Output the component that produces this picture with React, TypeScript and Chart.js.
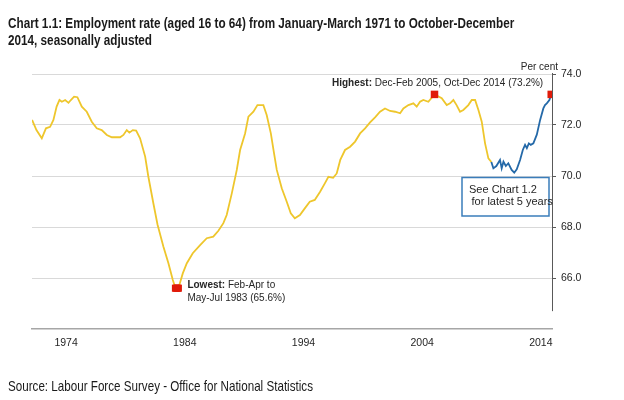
import React, { useEffect, useRef } from 'react';
import { Chart, registerables } from 'chart.js';

Chart.register(...registerables);

// Employment rate (%); x = decimal year (centre of the 3-month period)
const trendYears = [
  1971.13, 1971.5, 1971.95, 1972.3, 1972.65, 1972.93, 1973.2, 1973.44, 1973.64, 1973.92,
  1974.2, 1974.4, 1974.67, 1974.95, 1975.32, 1975.74, 1976.16, 1976.58, 1977.0, 1977.43,
  1977.85, 1978.55, 1978.83, 1979.11, 1979.33, 1979.62, 1979.9, 1980.23, 1980.66, 1980.93,
  1981.35, 1981.7, 1982.2, 1982.62, 1982.99, 1983.21, 1983.46, 1983.83, 1984.17, 1984.67,
  1985.29, 1985.85, 1986.4, 1986.83, 1987.25, 1987.53, 1987.96, 1988.38, 1988.66, 1989.08,
  1989.36, 1989.78, 1990.12, 1990.62, 1990.9, 1991.25, 1991.52, 1991.75, 1992.17, 1992.59,
  1992.93, 1993.27, 1993.7, 1994.11, 1994.53, 1994.95, 1995.4, 1995.8, 1996.1, 1996.5,
  1996.8, 1997.1, 1997.5, 1997.93, 1998.35, 1998.77, 1999.19, 1999.61, 2000.03, 2000.45,
  2000.87, 2001.3, 2001.72, 2002.14, 2002.42, 2002.84, 2003.26, 2003.54, 2003.82, 2004.1,
  2004.52, 2005.04, 2005.65, 2006.07, 2006.35, 2006.63, 2006.9, 2007.19, 2007.47, 2007.89,
  2008.18, 2008.46, 2008.74, 2009.02, 2009.3, 2009.58, 2009.83,
];
const trendValues = [
  72.2, 71.8, 71.48, 71.87, 71.93, 72.2, 72.72, 72.98, 72.91, 72.98,
  72.87, 72.98, 73.11, 73.09, 72.72, 72.52, 72.13, 71.87, 71.8, 71.61,
  71.52, 71.52, 71.61, 71.8, 71.7, 71.8, 71.78, 71.48, 70.76, 69.97,
  68.93, 68.1, 67.23, 66.58, 65.92, 65.6, 65.6, 66.18, 66.58, 66.97,
  67.29, 67.56, 67.62, 67.85, 68.15, 68.47, 69.32, 70.24, 71.02, 71.67,
  72.33, 72.52, 72.78, 72.78, 72.39, 71.67, 70.89, 70.24, 69.52, 68.99,
  68.54, 68.34, 68.47, 68.73, 68.99, 69.06, 69.38, 69.71, 69.97, 69.93,
  70.1, 70.63, 71.02, 71.15, 71.35, 71.67, 71.87, 72.1, 72.3, 72.52,
  72.65, 72.55, 72.52, 72.46, 72.65, 72.78, 72.85, 72.72, 72.91, 72.98,
  72.91, 73.2, 73.05, 72.78, 72.85, 72.98, 72.78, 72.52, 72.59, 72.78,
  72.98, 72.98, 72.59, 72.13, 71.28, 70.69, 70.55,
];
const recentYears = [
  2009.83, 2010.0, 2010.25, 2010.56, 2010.7, 2010.85, 2011.05, 2011.26, 2011.54, 2011.76,
  2011.97, 2012.25, 2012.48, 2012.67, 2012.82, 2012.99, 2013.15, 2013.37, 2013.66, 2013.94,
  2014.21, 2014.35, 2014.5, 2014.72, 2014.875,
];
const recentValues = [
  70.55, 70.3, 70.39, 70.63, 70.3, 70.56, 70.39, 70.5, 70.24, 70.13,
  70.26, 70.63, 71.02, 71.22, 71.09, 71.28, 71.22, 71.28, 71.62, 72.2,
  72.65, 72.78, 72.85, 72.98, 73.2,
];
const lowestYears = [1983.21, 1983.29, 1983.38, 1983.46];
const lowestValues = [65.6, 65.6, 65.6, 65.6];
const highestYears = [2005.04, 2014.875];
const highestValues = [73.2, 73.2];

const xTickYears = [1974, 1984, 1994, 2004, 2014];
const yTickValues = [66, 68, 70, 72, 74];

const titleLines = [
  'Chart 1.1: Employment rate (aged 16 to 64) from January-March 1971 to October-December',
  '2014, seasonally adjusted',
];
const sourceText = 'Source: Labour Force Survey - Office for National Statistics';
const unitText = 'Per cent';
const highestLabel = 'Highest:';
const highestText = ' Dec-Feb 2005, Oct-Dec 2014 (73.2%)';
const lowestLabel = 'Lowest:';
const lowestText1 = ' Feb-Apr to';
const lowestText2 = 'May-Jul 1983 (65.6%)';
const boxLines = ['See Chart 1.2', 'for latest 5 years'];

const SANS = '"Liberation Sans", Arial, sans-serif';
const NARROW_SCALE = 0.82; // Arial Narrow is 82% of Arial's width
const YELLOW = '#EEC62C';
const BLUE = '#2469A8';
const RED = '#E01B0A';
const TEXT = '#262626';

const toPoints = (xs: number[], ys: number[]) => xs.map((x, i) => ({ x, y: ys[i] }));

const drawNarrow = (ctx: CanvasRenderingContext2D, text: string, x: number, y: number) => {
  ctx.save();
  ctx.translate(x, y);
  ctx.scale(NARROW_SCALE, 1);
  ctx.fillText(text, 0, 0);
  ctx.restore();
};

const annotatePlugin = {
  id: 'annotate',
  afterDraw(chart: any) {
    const { ctx, chartArea, scales } = chart;
    const x = scales.x;
    const y = scales.y;
    ctx.save();

    // right-hand value axis line
    const ax = Math.round(chartArea.right) + 0.5;
    ctx.strokeStyle = '#595959';
    ctx.lineWidth = 1;
    ctx.beginPath();
    ctx.moveTo(ax, y.getPixelForValue(74) - 1);
    ctx.lineTo(ax, y.getPixelForValue(64.7));
    ctx.stroke();

    // title
    ctx.fillStyle = '#1a1a1a';
    ctx.textBaseline = 'alphabetic';
    ctx.textAlign = 'left';
    ctx.font = `bold 14.3px ${SANS}`;
    drawNarrow(ctx, titleLines[0], 8, 28);
    drawNarrow(ctx, titleLines[1], 8, 45);

    // source
    ctx.font = `14.2px ${SANS}`;
    drawNarrow(ctx, sourceText, 8, 391);

    ctx.fillStyle = TEXT;
    // unit
    ctx.font = `10px ${SANS}`;
    ctx.textAlign = 'right';
    ctx.fillText(unitText, chartArea.right + 6, 70);

    // highest annotation
    ctx.textAlign = 'left';
    ctx.font = `bold 10px ${SANS}`;
    const hx = 332;
    const hy = 86;
    ctx.fillText(highestLabel, hx, hy);
    const hw = ctx.measureText(highestLabel).width;
    ctx.font = `10px ${SANS}`;
    ctx.fillText(highestText, hx + hw, hy);

    // lowest annotation
    const lx = x.getPixelForValue(1983.46) + 9;
    const ly = y.getPixelForValue(65.6);
    ctx.font = `bold 10px ${SANS}`;
    ctx.fillText(lowestLabel, lx, ly);
    const lw = ctx.measureText(lowestLabel).width;
    ctx.font = `10px ${SANS}`;
    ctx.fillText(lowestText1, lx + lw, ly);
    ctx.fillText(lowestText2, lx, ly + 12.5);

    // "See Chart 1.2" box
    const bx = 462;
    const by = 177.5;
    ctx.fillStyle = '#ffffff';
    ctx.fillRect(bx, by, 87, 38.5);
    ctx.strokeStyle = '#3A7DBA';
    ctx.lineWidth = 1.5;
    ctx.strokeRect(bx, by, 87, 38.5);
    ctx.fillStyle = TEXT;
    ctx.font = `11px ${SANS}`;
    ctx.fillText(boxLines[0], bx + 7, by + 15);
    ctx.fillText(boxLines[1], bx + 9.5, by + 27);

    ctx.restore();
  },
};

export default function App() {
  const canvasRef = useRef<HTMLCanvasElement>(null);

  useEffect(() => {
    const canvas = canvasRef.current;
    if (!canvas) return;
    const chart = new Chart(canvas, {
      type: 'scatter',
      data: {
        datasets: [
          {
            label: 'Lowest',
            data: toPoints(lowestYears, lowestValues),
            pointStyle: 'rect',
            pointRadius: 5,
            pointBackgroundColor: RED,
            pointBorderWidth: 0,
            showLine: false,
            order: 0,
          },
          {
            label: 'Highest',
            data: toPoints(highestYears, highestValues),
            pointStyle: 'rect',
            pointRadius: 5.3,
            pointBackgroundColor: RED,
            pointBorderWidth: 0,
            showLine: false,
            order: 0,
          },
          {
            label: 'Latest 5 years',
            data: toPoints(recentYears, recentValues),
            showLine: true,
            borderColor: BLUE,
            borderWidth: 1.8,
            pointRadius: 0,
            tension: 0,
            order: 1,
          },
          {
            label: 'Employment rate',
            data: toPoints(trendYears, trendValues),
            showLine: true,
            borderColor: YELLOW,
            borderWidth: 1.8,
            pointRadius: 0,
            tension: 0,
            order: 2,
          },
        ],
      },
      options: {
        animation: false,
        responsive: false,
        maintainAspectRatio: false,
        layout: { padding: { left: 32, top: 74, right: 0, bottom: 0 } },
        plugins: {
          legend: { display: false },
          tooltip: { enabled: false },
          title: { display: false },
        },
        scales: {
          x: {
            type: 'linear',
            min: 1971.125,
            max: 2014.94,
            afterBuildTicks: (scale: any) => {
              scale.ticks = xTickYears.map((v) => ({ value: v }));
            },
            afterFit: (scale: any) => {
              scale.height = 71;
            },
            grid: { display: false, drawTicks: false },
            border: { display: true, color: '#A6A6A6', width: 1.5 },
            ticks: {
              autoSkip: false,
              maxRotation: 0,
              padding: 8,
              color: TEXT,
              font: { family: SANS, size: 10.5 },
              callback: (v: any) => String(v),
            },
          },
          y: {
            type: 'linear',
            position: 'right',
            min: 64,
            max: 74,
            afterBuildTicks: (scale: any) => {
              scale.ticks = yTickValues.map((v) => ({ value: v }));
            },
            afterFit: (scale: any) => {
              scale.width = 72;
            },
            grid: {
              color: '#D9D9D9',
              lineWidth: 1,
              drawTicks: true,
              tickLength: 4,
              tickColor: '#595959',
            },
            border: { display: false },
            ticks: {
              padding: 5,
              color: TEXT,
              font: { family: SANS, size: 10.5 },
              callback: (v: any) => Number(v).toFixed(1),
            },
          },
        },
      },
      plugins: [annotatePlugin],
    });
    return () => chart.destroy();
  }, []);

  return (
    <div style={{ position: 'absolute', left: 0, top: 0, width: 624, height: 400, background: '#fff' }}>
      <canvas ref={canvasRef} width={624} height={400} style={{ width: 624, height: 400, display: 'block' }} />
    </div>
  );
}
